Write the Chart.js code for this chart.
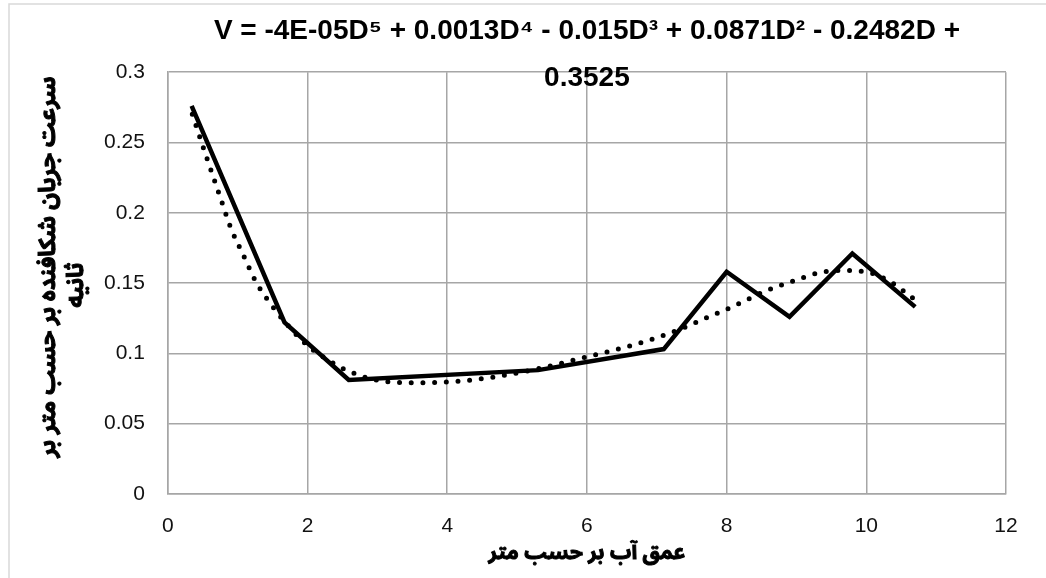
<!DOCTYPE html>
<html>
<head>
<meta charset="utf-8">
<script src="https://cdn.jsdelivr.net/npm/chart.js@4.4.1/dist/chart.umd.min.js"></script>
<style>
  html, body { margin: 0; padding: 0; background: #fff; }
  #wrap { position: relative; width: 1046px; height: 578px; }
</style>
</head>
<body>
<div id="wrap"><canvas id="velocityChart"></canvas></div>
<script>
  // measured depth (m) and rip current velocity (m/s)
  const depth = [0.34, 1.67, 2.59, 5.3, 7.1, 8.0, 8.9, 9.8, 10.7];
  const velocity = [0.276, 0.122, 0.081, 0.088, 0.103, 0.158, 0.126, 0.171, 0.133];

  // 5th order polynomial trend, sampled along the curve
  const trendDepth = [0.35, 0.53, 0.75, 0.91, 1.06, 1.27, 1.46, 1.68, 2.01, 2.3, 2.6, 3.1, 3.6, 4.15, 4.65, 5.35, 6.0, 6.56, 7.2, 7.77, 8.08, 8.53, 8.99, 9.3, 9.63, 9.99, 10.34, 10.7];
  const trendVelocity = [0.270, 0.243, 0.211, 0.188, 0.172, 0.150, 0.136, 0.122, 0.105, 0.095, 0.087, 0.080, 0.079, 0.080, 0.083, 0.0895, 0.0975, 0.1045, 0.1145, 0.1265, 0.133, 0.1437, 0.152, 0.157, 0.159, 0.158, 0.151, 0.138];

  const titleLines = ['V = -4E-05D\u2075 + 0.0013D\u2074 - 0.015D\u00B3 + 0.0871D\u00B2 - 0.2482D +', '0.3525'];
  const xTitle = 'عمق آب بر حسب متر';
  const yTitle = ['سرعت جریان شکافنده بر حسب متر بر', 'ثانیه'];

  const gridColor = '#a6a6a6';
  const arabicFont = '"Noto Sans Arabic", "DejaVu Sans", sans-serif';
  const latinFont = '"Liberation Sans", Arial, sans-serif';

  const toPoints = (xs, ys) => xs.map((x, i) => ({ x: x, y: ys[i] }));

  // heavy text: fill plus a thin stroke of the same colour
  function heavyText(ctx, text, x, y, size) {
    ctx.font = 'bold ' + size + 'px ' + arabicFont;
    ctx.fillText(text, x, y);
    ctx.strokeText(text, x, y);
  }

  // light frame around the chart, and the two axis titles
  const decorations = {
    id: 'decorations',
    beforeDraw(chart) {
      const ctx = chart.ctx;
      ctx.save();
      ctx.strokeStyle = '#d9d9d9';
      ctx.lineWidth = 1.5;
      ctx.beginPath();
      ctx.moveTo(9, 600);
      ctx.lineTo(9, 4);
      ctx.lineTo(1100, 4);
      ctx.stroke();
      ctx.restore();
    },
    afterDraw(chart) {
      const ctx = chart.ctx;
      const area = chart.chartArea;
      const midX = (area.left + area.right) / 2;
      const midY = (area.top + area.bottom) / 2;
      ctx.save();
      ctx.fillStyle = '#000';
      ctx.strokeStyle = '#000';
      ctx.lineWidth = 1;
      ctx.textAlign = 'center';
      ctx.textBaseline = 'middle';
      heavyText(ctx, xTitle, midX, 556, 21);

      ctx.save();
      ctx.translate(52, midY - 16);
      ctx.rotate(-Math.PI / 2);
      heavyText(ctx, yTitle[0], 0, 0, 23);
      ctx.restore();
      ctx.save();
      ctx.translate(80, midY + 2);
      ctx.rotate(-Math.PI / 2);
      heavyText(ctx, yTitle[1], 0, 0, 23);
      ctx.restore();
      ctx.restore();
    }
  };

  const config = {
    type: 'line',
    data: {
      datasets: [{
        label: 'V',
        data: toPoints(depth, velocity),
        borderColor: '#000',
        borderWidth: 4.5,
        pointRadius: 0,
        tension: 0,
        borderJoinStyle: 'miter'
      }, {
        label: 'Poly. (V)',
        data: toPoints(trendDepth, trendVelocity),
        borderColor: '#000',
        borderWidth: 5,
        borderDash: [0, 11.7],
        borderCapStyle: 'round',
        pointRadius: 0,
        cubicInterpolationMode: 'monotone'
      }]
    },
    options: {
      responsive: true,
      maintainAspectRatio: false,
      animation: false,
      layout: { padding: { left: 81, right: 40, top: 0, bottom: 19 } },
      plugins: {
        legend: { display: false },
        tooltip: { enabled: false },
        title: {
          display: true,
          text: titleLines,
          fullSize: false,
          color: '#000',
          font: { family: latinFont, size: 28, weight: 'bold', lineHeight: 1.7 },
          padding: { top: 7, bottom: -30 }
        }
      },
      scales: {
        x: {
          type: 'linear',
          min: 0,
          max: 12,
          ticks: {
            stepSize: 2,
            color: '#111',
            padding: 20,
            font: { family: latinFont, size: 21 }
          },
          grid: { color: gridColor, lineWidth: 1.5, drawTicks: false },
          border: { color: gridColor, width: 1.5 }
        },
        y: {
          min: 0,
          max: 0.3,
          ticks: {
            stepSize: 0.05,
            color: '#111',
            padding: 23,
            font: { family: latinFont, size: 21 },
            callback: (value) => String(+value.toFixed(2))
          },
          grid: { color: gridColor, lineWidth: 1.5, drawTicks: false },
          border: { color: gridColor, width: 1.5 }
        }
      }
    },
    plugins: [decorations]
  };

  var velocityChart = new Chart(
    document.getElementById('velocityChart'),
    config
  );
</script>
</body>
</html>
